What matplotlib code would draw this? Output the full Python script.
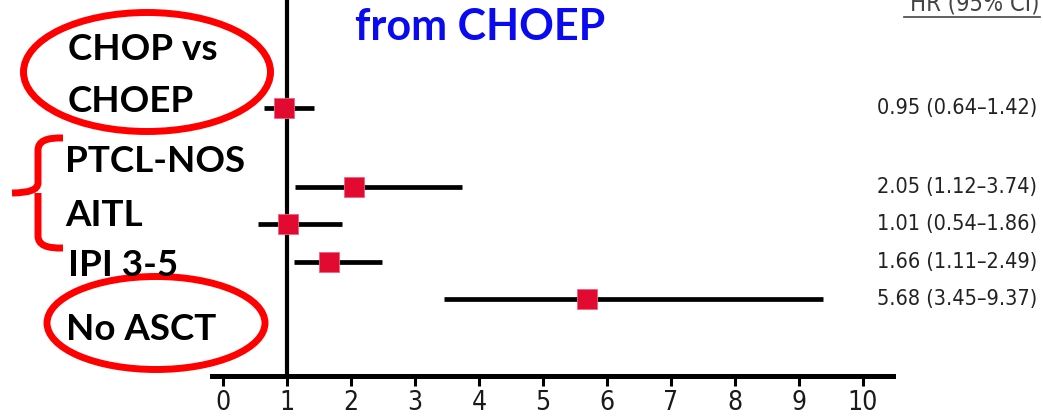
import matplotlib
matplotlib.use('Agg')
import matplotlib.pyplot as plt
import matplotlib.transforms as mtransforms
from matplotlib.patches import Ellipse, PathPatch
from matplotlib.path import Path

# hazard ratios with 95% CI (top to bottom)
hr = [0.95, 2.05, 1.01, 1.66, 5.68]
ci_low = [0.64, 1.12, 0.54, 1.11, 3.45]
ci_high = [1.42, 3.74, 1.86, 2.49, 9.37]
row_pos = [0, 2.1, 3.1, 4.1, 5.1]
xticks = [0, 1, 2, 3, 4, 5, 6, 7, 8, 9, 10]

group_labels = ['CHOP vs', 'CHOEP', 'PTCL-NOS', 'AITL', 'IPI 3-5', 'No ASCT']
title = 'from CHOEP'
col_header = 'HR (95% CI)'

W, H = 1043, 416
fig = plt.figure(figsize=(W / 100, H / 100), dpi=100)

narrow = ['DejaVu Sans']
bold = ['Lato', 'DejaVu Sans']

# overlay in pixel coords for annotations
ov = fig.add_axes([0, 0, 1, 1], zorder=0)
ov.set_xlim(0, W)
ov.set_ylim(H, 0)
ov.axis('off')

# forest plot axes
ax = fig.add_axes([212 / W, 40 / H, (893 - 212) / W, 1 - 40 / H], zorder=2)
ax.patch.set_alpha(0)
ax.set_xlim((212 - 223) / 64, (893 - 223) / 64)
ax.set_ylim((376 - 108) / 37.5, -108 / 37.5)

ax.axvline(1, color='black', lw=3, zorder=1)
ax.hlines(row_pos, ci_low, ci_high, color='black', lw=3.4, zorder=2)
ax.plot(hr, row_pos, 's', color='#e20a30', markersize=14.5,
        markeredgecolor='#f06080', markeredgewidth=0.6, zorder=3)

for s in ['top', 'right', 'left']:
    ax.spines[s].set_visible(False)
ax.spines['bottom'].set_linewidth(3.6)
ax.set_yticks([])
ax.set_xticks(xticks)
ax.tick_params(axis='x', direction='out', length=7, width=2.2, pad=3,
               labelsize=19, colors='black')
for lab in ax.get_xticklabels():
    lab.set_family(narrow)
    lab.set_fontstretch('condensed')
    lab.set_color('#1a1a1a')

# value column
tr = mtransforms.blended_transform_factory(ov.transData, ax.transData)
for y, h, lo, hi in zip(row_pos, hr, ci_low, ci_high):
    ax.text(1037, y, f'{h:.2f} ({lo:.2f}\u2013{hi:.2f})', transform=tr,
            ha='right', va='center', fontsize=15.5, family=narrow,
            fontstretch='condensed', color='#222222', clip_on=False)

# header + title
ov.text(1040, 4, col_header, ha='right', va='center', fontsize=17,
        family=narrow, fontstretch='condensed', color='#444444')
ov.plot([904, 1040], [17, 17], color='#444444', lw=1.2)
ov.text(355, 27, title, ha='left', va='center', fontsize=31,
        fontweight='bold', family=bold, color='#0a0af0')

# left labels
label_xy = [(68, 50), (68, 101), (65, 162), (65, 215), (68, 265), (66, 330)]
for txt, (x, y) in zip(group_labels, label_xy):
    ov.text(x, y, txt, ha='left', va='center', fontsize=26.5,
            fontweight='bold', family=bold, color='black')

# red highlight marks
ov.add_patch(Ellipse((147, 72), 247, 119, fill=False, ec='red', lw=5))
ov.add_patch(Ellipse((156, 323), 218, 93, fill=False, ec='red', lw=5))
brace = Path(
    [(63, 138), (38, 137), (38, 150), (38, 183), (38, 193), (12, 193),
     (38, 193), (38, 203), (38, 236), (38, 249), (63, 248)],
    [Path.MOVETO, Path.CURVE3, Path.CURVE3, Path.LINETO, Path.CURVE3, Path.LINETO,
     Path.MOVETO, Path.CURVE3, Path.LINETO, Path.CURVE3, Path.CURVE3])
ov.add_patch(PathPatch(brace, fill=False, ec='red', lw=5))

fig.savefig('out.png', dpi=100)
